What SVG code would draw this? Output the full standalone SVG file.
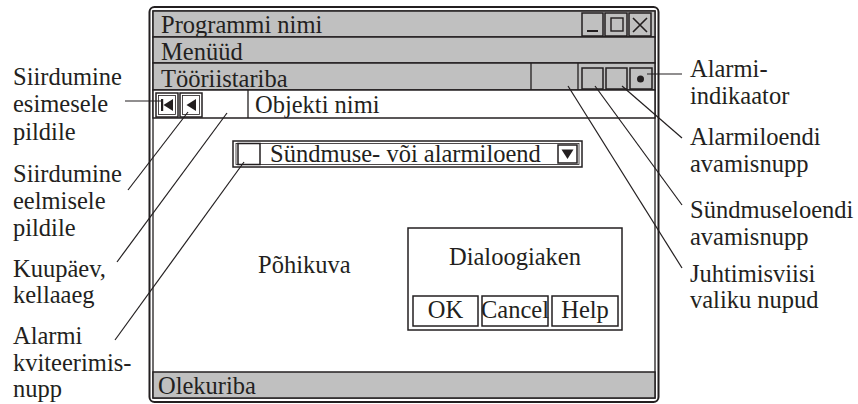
<svg xmlns="http://www.w3.org/2000/svg" width="858" height="404" viewBox="0 0 858 404">
<style>
text{font-family:"Liberation Serif","Times New Roman",serif;font-size:24.5px;fill:#231f20}
.ln{stroke:#231f20;fill:none;stroke-width:1.3}
.g{fill:#c0c0c0;stroke:#231f20;stroke-width:1.5}
.w{fill:#fff;stroke:#231f20;stroke-width:1.5}
.lead{stroke:#231f20;stroke-width:1.2;fill:none}
</style>
<rect width="858" height="404" fill="#fff"/>
<g id="window">
<rect x="149.5" y="7" width="509" height="395" rx="5" fill="#fff" stroke="#231f20" stroke-width="2"/>
<rect x="153" y="11" width="502" height="387" fill="#fff" stroke="#231f20" stroke-width="1.3"/>
</g>
<g id="titlebar">
<rect x="153" y="11" width="502" height="26" class="g"/>
<text x="161" y="33">Programmi nimi</text>
<rect x="582" y="13" width="21" height="23" class="g"/>
<line x1="587" y1="31" x2="598" y2="31" stroke="#231f20" stroke-width="2"/>
<rect x="605" y="13" width="22" height="23" class="g"/>
<rect x="611" y="18" width="12" height="13" fill="none" stroke="#231f20" stroke-width="1.4"/>
<rect x="629" y="13" width="22" height="23" class="g"/>
<path d="M633 18L647 32M647 18L633 32" stroke="#231f20" stroke-width="1.6"/>
</g>
<g id="menubar">
<rect x="153" y="37" width="502" height="26" class="g"/>
<text x="161" y="60">Menüüd</text>
</g>
<g id="toolbar">
<rect x="153" y="63" width="502" height="27" class="g"/>
<text x="161" y="87">Tööriistariba</text>
<line x1="531" y1="63" x2="531" y2="90" class="ln"/>
<line x1="578" y1="63" x2="578" y2="90" class="ln"/>
<rect x="582" y="68" width="21" height="21" class="g"/>
<rect x="606" y="68" width="21" height="21" class="g"/>
<rect x="630" y="68" width="22" height="21" class="g"/>
<circle cx="640.5" cy="79" r="3.5" fill="#231f20"/>
</g>
<g id="objectrow">
<rect x="153" y="90" width="502" height="28" class="w"/>
<rect x="156" y="93" width="22" height="24" class="w"/>
<rect x="158.5" y="95.5" width="17" height="19" fill="none" stroke="#231f20" stroke-width="0.8"/>
<rect x="161" y="99" width="2.2" height="12" fill="#231f20"/>
<path d="M173 99L163.5 105L173 111Z" fill="#231f20"/>
<rect x="180" y="93" width="22" height="24" class="w"/>
<rect x="182.5" y="95.5" width="17" height="19" fill="none" stroke="#231f20" stroke-width="0.8"/>
<path d="M196 99L186.5 105L196 111Z" fill="#231f20"/>
<line x1="248" y1="90" x2="248" y2="118" class="ln"/>
<text x="255" y="113">Objekti nimi</text>
</g>
<g id="dropdown">
<rect x="233" y="141" width="349" height="26" class="w"/>
<rect x="236" y="143.5" width="343" height="21" fill="none" stroke="#231f20" stroke-width="0.8"/>
<rect x="238" y="143.5" width="22" height="21" class="w"/>
<text x="270" y="162">Sündmuse- või alarmiloend</text>
<rect x="558" y="145" width="19" height="18" class="w"/>
<path d="M561.5 149.5L573.5 149.5L567.5 159Z" fill="#231f20"/>
</g>
<g id="main">
<text x="258" y="273">Põhikuva</text>
</g>
<g id="dialog">
<rect x="408" y="228" width="214" height="102" class="w"/>
<text x="515" y="265" text-anchor="middle">Dialoogiaken</text>
<rect x="413" y="296" width="65" height="30" class="w"/>
<text x="445.5" y="318" text-anchor="middle">OK</text>
<rect x="482" y="296" width="66" height="30" class="w"/>
<text x="515" y="318" text-anchor="middle">Cancel</text>
<rect x="552" y="296" width="66" height="30" class="w"/>
<text x="585" y="318" text-anchor="middle">Help</text>
</g>
<g id="statusbar">
<rect x="153" y="372" width="502" height="26" class="g"/>
<text x="158" y="394">Olekuriba</text>
</g>
<g id="connectors">
<line x1="125" y1="101" x2="162" y2="101" class="lead"/>
<line x1="128" y1="190" x2="188" y2="112" class="lead"/>
<line x1="117" y1="262" x2="227" y2="113" class="lead"/>
<line x1="115" y1="340" x2="244" y2="162" class="lead"/>
<line x1="647" y1="74" x2="682" y2="74" class="lead"/>
<line x1="622" y1="86" x2="682" y2="138" class="lead"/>
<line x1="595" y1="86" x2="682" y2="205" class="lead"/>
<line x1="568" y1="86" x2="682" y2="268" class="lead"/>
</g>
<g id="labels-left">
<text x="13" y="85">Siirdumine</text>
<text x="13" y="112">esimesele</text>
<text x="13" y="140">pildile</text>
<text x="13" y="182">Siirdumine</text>
<text x="13" y="209">eelmisele</text>
<text x="13" y="236">pildile</text>
<text x="13" y="277">Kuupäev,</text>
<text x="13" y="303">kellaaeg</text>
<text x="13" y="344">Alarmi</text>
<text x="13" y="371">kviteerimis-</text>
<text x="13" y="397">nupp</text>
</g>
<g id="labels-right">
<text x="690" y="77">Alarmi-</text>
<text x="690" y="104">indikaator</text>
<text x="690" y="145">Alarmiloendi</text>
<text x="690" y="172">avamisnupp</text>
<text x="690" y="218">Sündmuseloendi</text>
<text x="690" y="245">avamisnupp</text>
<text x="690" y="282">Juhtimisviisi</text>
<text x="690" y="308">valiku nupud</text>
</g>
</svg>
